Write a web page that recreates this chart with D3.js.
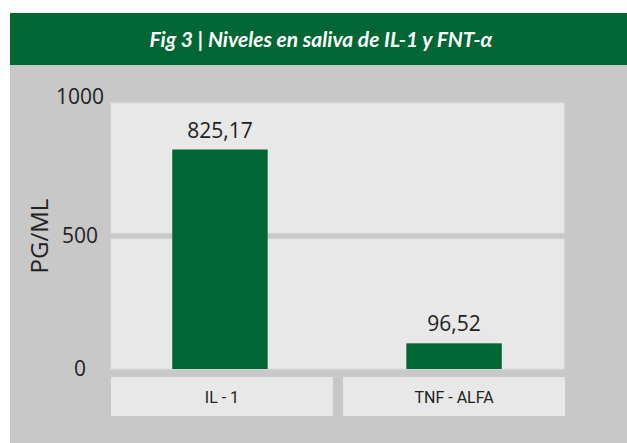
<!DOCTYPE html>
<html>
<head>
<meta charset="utf-8">
<script src="https://cdn.jsdelivr.net/npm/d3@7"></script>
<style>
  body { margin: 0; background: #fff; }
  svg { display: block; }
</style>
</head>
<body>
<div id="chart"></div>
<script>
// data
const categories = ["IL - 1", "TNF - ALFA"];
const values = [825.17, 96.52];
const valueLabels = ["825,17", "96,52"];
const yTicks = [0, 500, 1000];

const W = 627, H = 443;

const svg = d3.select("#chart")
    .append("svg")
    .attr("width", W)
    .attr("height", H);

// gray card + green header
svg.append("rect")
    .attr("x", 10).attr("y", 13)
    .attr("width", W - 10).attr("height", H - 13)
    .attr("fill", "#c8c8c8");

svg.append("rect")
    .attr("x", 10).attr("y", 13)
    .attr("width", W - 10).attr("height", 52)
    .attr("fill", "#006633");

svg.append("text")
    .attr("x", 321).attr("y", 47)
    .attr("text-anchor", "middle")
    .attr("fill", "#fff")
    .attr("font-family", "Lato, 'Open Sans', sans-serif")
    .attr("font-style", "italic")
    .attr("font-weight", 700)
    .attr("font-size", 21)
    .text("Fig 3 | Niveles en saliva de IL-1 y FNT-α");

// scales
const plot = {left: 111, right: 565, top: 103, bottom: 369};

const x = d3.scaleBand()
    .domain(categories)
    .range([plot.left, plot.right])
    .paddingInner(0.044);

const y = d3.scaleLinear()
    .domain([0, 1000])
    .range([plot.bottom, plot.top]);

// panels split by the 500 gridline
const gap = 3;
const panels = [[1000, 500], [500, 0]];
svg.append("g")
    .selectAll("rect")
    .data(panels)
    .join("rect")
    .attr("x", plot.left)
    .attr("width", plot.right - plot.left - 1)
    .attr("y", d => y(d[0]) + (d[0] === 1000 ? 0 : gap))
    .attr("height", d => y(d[1]) - y(d[0]) - gap)
    .attr("fill", "#e8e8e8")
    .attr("stroke", "#dedede")
    .attr("stroke-width", 1);

// y tick labels
svg.append("g")
    .selectAll("text")
    .data(yTicks)
    .join("text")
    .attr("x", 80)
    .attr("y", d => y(d) + (d === 1000 ? -6 : 0))
    .attr("dy", "0.35em")
    .attr("text-anchor", "middle")
    .attr("fill", "#222")
    .attr("font-family", "'Open Sans', sans-serif")
    .attr("font-size", 21)
    .text(d => d);

// y axis title
svg.append("text")
    .attr("transform", `translate(40, ${y(500)}) rotate(-90)`)
    .attr("dy", "0.35em")
    .attr("text-anchor", "middle")
    .attr("fill", "#222")
    .attr("font-family", "'Open Sans', sans-serif")
    .attr("font-size", 24)
    .text("PG/ML");

// bars
const barW = x.bandwidth() * 0.43;
svg.append("g")
    .selectAll("rect")
    .data(values)
    .join("rect")
    .attr("x", (d, i) => x(categories[i]) + x.bandwidth() / 2 - barW / 2 - (i === 0 ? 2 : 0))
    .attr("y", d => y(d))
    .attr("width", barW)
    .attr("height", d => y(0) - y(d))
    .attr("fill", "#006633");

// value labels
svg.append("g")
    .selectAll("text")
    .data(values)
    .join("text")
    .attr("x", (d, i) => x(categories[i]) + x.bandwidth() / 2 - (i === 0 ? 2 : 0))
    .attr("y", d => y(d) - 12)
    .attr("text-anchor", "middle")
    .attr("fill", "#222")
    .attr("font-family", "'Open Sans', sans-serif")
    .attr("font-size", 21)
    .text((d, i) => valueLabels[i]);

// category boxes
const cat = svg.append("g")
    .selectAll("g")
    .data(categories)
    .join("g")
    .attr("transform", d => `translate(${x(d)}, 377)`);

cat.append("rect")
    .attr("width", x.bandwidth())
    .attr("height", 39)
    .attr("fill", "#e8e8e8");

cat.append("text")
    .attr("x", x.bandwidth() / 2)
    .attr("y", 20)
    .attr("dy", "0.35em")
    .attr("text-anchor", "middle")
    .attr("fill", "#222")
    .attr("font-family", "'Liberation Sans Narrow', 'Roboto', sans-serif")
    .attr("font-size", 16)
    .text(d => d);
</script>
</body>
</html>
